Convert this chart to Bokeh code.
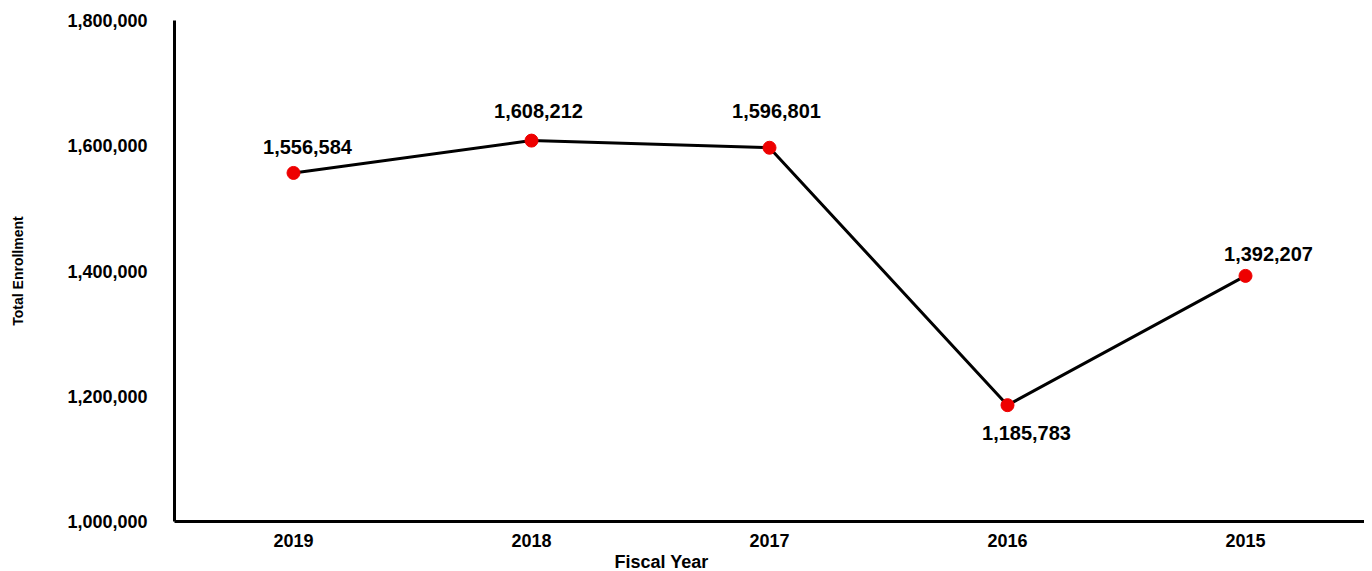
from bokeh.plotting import figure
from bokeh.models import (ColumnDataSource, FactorRange, Range1d, FixedTicker,
                          NumeralTickFormatter, Title)
from bokeh.core.properties import value
from bokeh.embed import file_html
from bokeh.resources import INLINE

# ---- data ----
years = ["2019", "2018", "2017", "2016", "2015"]
enrollment = [1556584, 1608212, 1596801, 1185783, 1392207]
y_ticks = [1000000, 1200000, 1400000, 1600000, 1800000]

# label placement (style, pixels; positive = up)
label_dx = [14, 7, 7, 19, 23]
label_dy = [26, 30, 37, -28, 22]

labels = [f"{v:,}" for v in enrollment]
src = ColumnDataSource(dict(x=years, y=enrollment, lab=labels,
                            dx=label_dx, dy=[-d for d in label_dy]))

FONT = "Liberation Sans"

p = figure(width=1364, height=571, x_range=FactorRange(*years, range_padding=0),
           y_range=Range1d(y_ticks[0], y_ticks[-1]),
           output_backend="svg", toolbar_location=None,
           min_border_left=174, min_border_right=0, min_border_top=20,
           min_border_bottom=47)
p.outline_line_color = None
p.xgrid.grid_line_color = None
p.ygrid.grid_line_color = None

p.line("x", "y", source=src, line_color="black", line_width=3)
p.scatter("x", "y", source=src, size=13, fill_color="#ee0000",
          line_color="#ee0000")
p.text("x", "y", text="lab", source=src, x_offset="dx", y_offset="dy",
       text_font=value(FONT), text_font_style="bold", text_font_size="20px",
       text_align="center", text_baseline="middle", text_color="black")

# y axis
ya = p.yaxis[0]
ya.ticker = FixedTicker(ticks=y_ticks)
ya.formatter = NumeralTickFormatter(format="0,0")
ya.axis_line_width = 3
ya.axis_line_color = "black"
ya.major_tick_line_color = None
ya.minor_tick_line_color = None
ya.major_label_standoff = 21
ya.major_label_text_font = FONT
ya.major_label_text_font_style = "bold"
ya.major_label_text_font_size = "18px"
ya.major_label_text_color = "black"
ya.axis_label = "Total Enrollment"
ya.axis_label_text_font = FONT
ya.axis_label_text_font_style = "bold"
ya.axis_label_text_font_size = "14px"
ya.axis_label_text_color = "black"
ya.axis_label_standoff = 38

# x axis
xa = p.xaxis[0]
xa.axis_line_width = 3
xa.axis_line_color = "black"
xa.major_tick_line_color = None
xa.minor_tick_line_color = None
xa.major_label_standoff = 6
xa.major_label_text_font = FONT
xa.major_label_text_font_style = "bold"
xa.major_label_text_font_size = "18px"
xa.major_label_text_color = "black"

p.add_layout(Title(text="Fiscal Year", align="left", offset=440,
                   text_font=FONT, text_font_style="bold",
                   text_font_size="18px", text_color="black", standoff=0),
             "below")

open("out.html", "w").write(file_html(p, INLINE))
